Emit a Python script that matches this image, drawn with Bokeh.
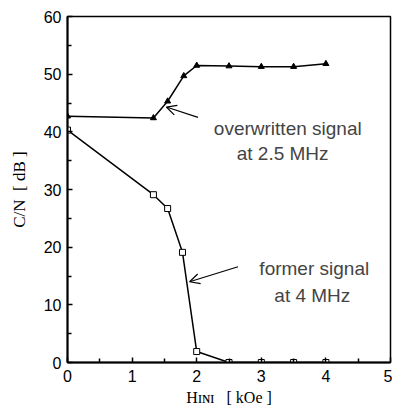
from bokeh.plotting import figure
from bokeh.models import Range1d, Label, Arrow, OpenHead, FixedTicker
from bokeh.embed import file_html
from bokeh.resources import INLINE

# overwritten signal at 2.5 MHz (triangles)
ow_x = [0.0, 1.33, 1.55, 1.80, 2.0, 2.5, 3.0, 3.5, 4.0]
ow_y = [42.7, 42.4, 45.3, 49.7, 51.5, 51.4, 51.3, 51.3, 51.8]

# former signal at 4 MHz (squares)
fs_x = [0.0, 1.33, 1.55, 1.78, 2.0, 2.5, 3.0, 3.5, 4.0]
fs_y = [40.3, 29.1, 26.7, 19.1, 1.9, 0.0, 0.0, 0.0, 0.0]

x_ticks = [0, 1, 2, 3, 4, 5]
y_ticks = [0, 10, 20, 30, 40, 50, 60]

p = figure(width=392, height=414, output_backend="svg", toolbar_location=None,
           x_range=Range1d(0, 5), y_range=Range1d(0, 60),
           min_border_left=67, min_border_right=2, min_border_top=16, min_border_bottom=52)
p.background_fill_color = "white"
p.border_fill_color = "white"
p.grid.visible = False
p.outline_line_color = "black"
p.outline_line_width = 1.5

for ax in (p.xaxis[0], p.yaxis[0]):
    ax.axis_line_width = 2
    ax.axis_line_color = "black"
    ax.major_tick_in = 5
    ax.major_tick_out = 0
    ax.minor_tick_in = 4
    ax.minor_tick_out = 0
    ax.major_tick_line_width = 1.5
    ax.minor_tick_line_width = 1.5
    ax.major_tick_line_color = "black"
    ax.minor_tick_line_color = "black"
    ax.major_label_text_font = "Liberation Sans"
    ax.major_label_text_font_size = "16px"
    ax.major_label_text_color = "black"

p.xaxis.ticker = FixedTicker(ticks=x_ticks, minor_ticks=[0.5, 1.5, 2.5, 3.5, 4.5])
p.yaxis.ticker = FixedTicker(ticks=y_ticks, minor_ticks=[5, 15, 25, 35, 45, 55])
p.xaxis.major_label_standoff = 7
p.yaxis.major_label_standoff = 6

p.yaxis.axis_label = "C/N\u00a0\u00a0[ dB ]"
p.yaxis.axis_label_text_font = "Liberation Serif"
p.yaxis.axis_label_text_font_style = "normal"
p.yaxis.axis_label_text_font_size = "17px"
p.yaxis.axis_label_text_color = "black"
p.yaxis.axis_label_standoff = 12

p.xaxis.axis_label = "H\u026a\u0274\u026a\u00a0\u00a0\u00a0[ kOe ]"
p.xaxis.axis_label_text_font = "Liberation Serif"
p.xaxis.axis_label_text_font_style = "normal"
p.xaxis.axis_label_text_font_size = "16px"
p.xaxis.axis_label_text_color = "black"
p.xaxis.axis_label_standoff = 4

# curves
p.line(ow_x, ow_y, line_color="black", line_width=1.5)
p.scatter(ow_x, ow_y, marker="triangle", size=6, fill_color="black", line_color="black")
p.line(fs_x, fs_y, line_color="black", line_width=1.5)
p.scatter(fs_x, fs_y, marker="square", size=6, fill_color="white", line_color="black", line_width=1)

# annotations
p.add_layout(Arrow(x_start=2.02, y_start=42.5, x_end=1.53, y_end=44.3,
                   line_width=1.2, end=OpenHead(size=10, line_width=1.2)))
p.add_layout(Arrow(x_start=2.64, y_start=16.6, x_end=1.89, y_end=14.0,
                   line_width=1.2, end=OpenHead(size=10, line_width=1.2)))

for tx, ty, tt in [(3.41, 40.6, "overwritten signal"), (3.33, 36.2, "at 2.5 MHz"),
                   (3.82, 16.3, "former signal"), (3.79, 11.6, "at 4 MHz")]:
    p.add_layout(Label(x=tx, y=ty, text=tt, text_font="Liberation Sans",
                       text_font_size="19px", text_align="center", text_baseline="middle"))

open("out.html", "w").write(file_html(p, INLINE))
